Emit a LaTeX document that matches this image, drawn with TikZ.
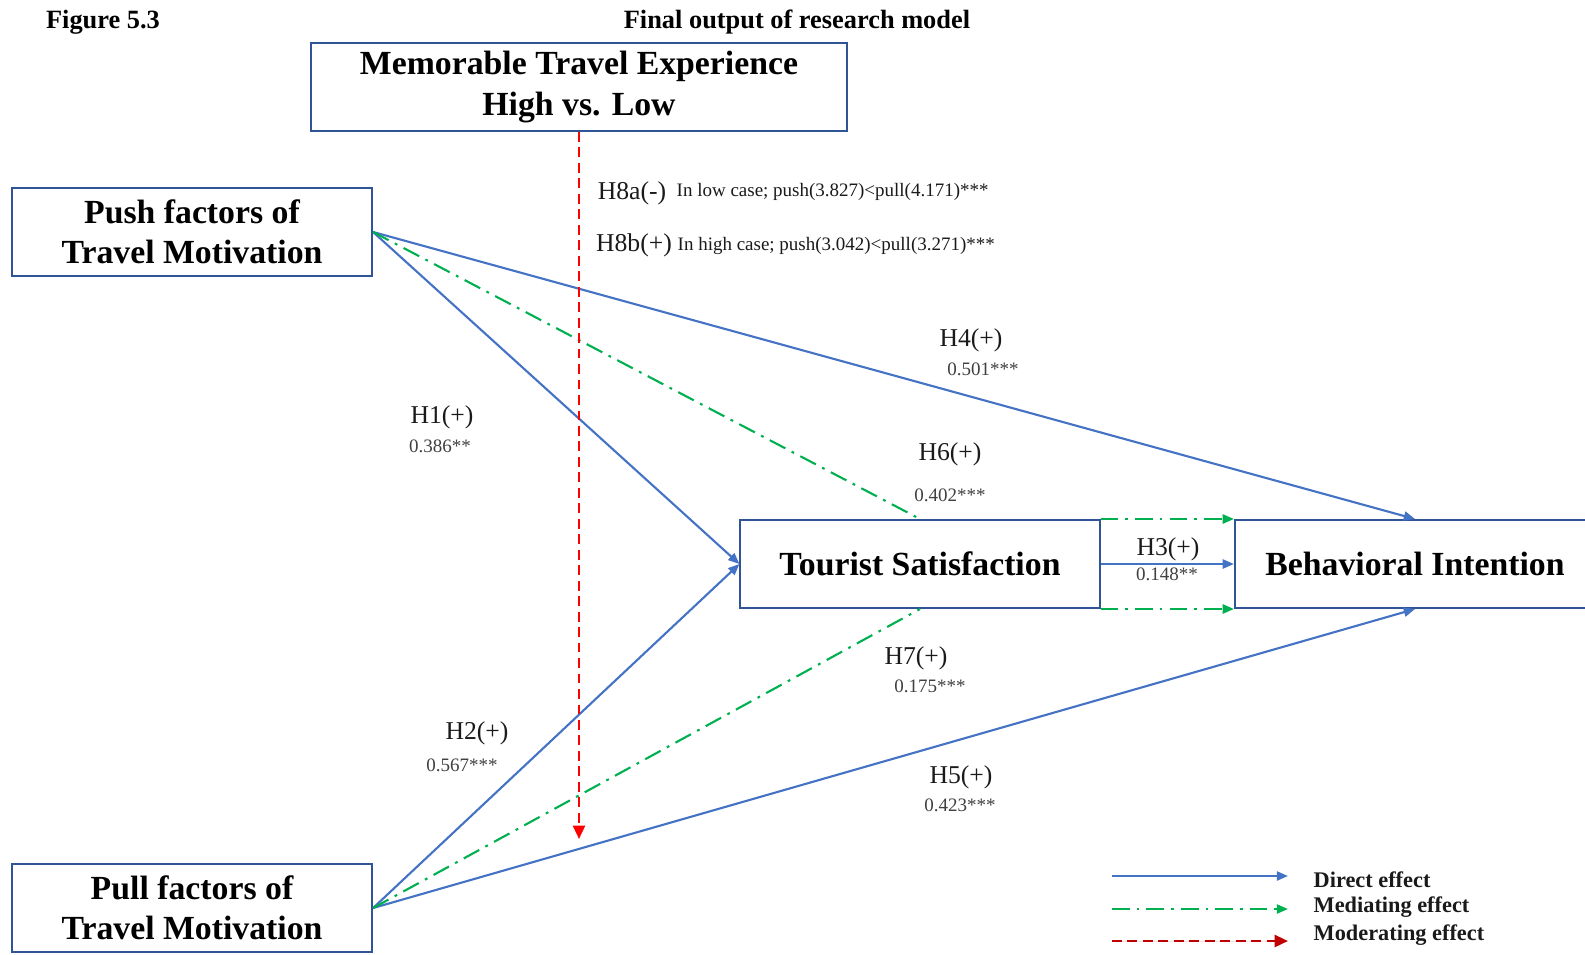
\documentclass[tikz,border=0pt]{standalone}
\usepackage{fontspec}
\setmainfont{Liberation Serif}
\usetikzlibrary{arrows.meta}
\definecolor{frame}{HTML}{2F5597}
\definecolor{pathblue}{HTML}{4472C4}
\definecolor{pathgreen}{HTML}{00B050}
\definecolor{pathred}{HTML}{FF0000}
\definecolor{legred}{HTML}{C00000}
\definecolor{ink}{HTML}{1A1A1A}
\definecolor{ink2}{HTML}{404040}
\tikzset{
  construct/.style={draw=frame, line width=0.55pt, fill=white, align=center, inner sep=0pt, minimum height=0.88cm, font=\fontsize{9.6}{11.5}\selectfont\bfseries, text=black},
  hyp/.style={font=\fontsize{7.3}{8.5}\selectfont, text=ink, inner sep=0pt},
  coef/.style={font=\fontsize{5.4}{6.5}\selectfont, text=ink2, inner sep=0pt},
  note/.style={font=\fontsize{5.4}{6.5}\selectfont, text=ink, inner sep=0pt, anchor=west},
  legtext/.style={font=\fontsize{6.35}{7.5}\selectfont\bfseries, text=ink, inner sep=0pt, anchor=west},
  direct/.style={-{Triangle[length=3.2pt,width=2.6pt]}, line width=0.6pt, draw=pathblue},
  mediate/.style={line width=0.6pt, draw=pathgreen, dash pattern=on 5pt off 2pt on 0.8pt off 2pt},
  moderate/.style={-{Triangle[length=3.8pt,width=3.4pt]}, line width=0.7pt, draw=pathred, dash pattern=on 2.8pt off 1.6pt},
}

\begin{document}
\begin{tikzpicture}[x=0.01cm, y=-0.01cm]
  \useasboundingbox (0,0) rectangle (1585,954);
  \node[font=\fontsize{7.5}{9}\selectfont\bfseries, inner sep=0pt] (fig) at (103,22) {Figure 5.3};
  \node[font=\fontsize{7.5}{9}\selectfont\bfseries, inner sep=0pt] (title) at (797,22) {Final output of research model};

  \node[construct, minimum width=5.36cm] (mte) at (579,87) {Memorable Travel Experience\\High vs. Low};
  \node[construct, minimum width=3.6cm] (push) at (192,232) {Push factors of\\Travel Motivation};
  \node[construct, minimum width=3.6cm] (pull) at (192,908) {Pull factors of\\Travel Motivation};
  \node[construct, minimum width=3.59cm] (ts) at (920,564) {Tourist Satisfaction};
  \node[construct, minimum width=3.6cm] (bi) at (1415,564) {Behavioral Intention};

  \draw[direct] (push.east) -- (ts.west);
  \draw[direct] (push.east) -- (bi.north);
  \draw[direct] (pull.east) -- (ts.west);
  \draw[direct] (pull.east) -- (bi.south);
  \draw[direct] (ts.east) -- (bi.west);
  \draw[mediate] (push.east) -- (ts.north);
  \draw[mediate] (pull.east) -- (ts.south);
  \draw[mediate, -{Triangle[length=3.2pt,width=2.6pt]}] (ts.north east) -- (bi.north west);
  \draw[mediate, -{Triangle[length=3.2pt,width=2.6pt]}] (ts.south east) -- (bi.south west);
  \coordinate (modend) at (579,839);
  \draw[moderate] (mte.south) -- (modend);

  \node[hyp] (h8a) at (632,193) {H8a(-)};
  \node[note] (h8anote) at (676,192) {In low case; push(3.827)<pull(4.171)***};
  \node[hyp] (h8b) at (634,245) {H8b(+)};
  \node[note] (h8bnote) at (677,246) {In high case; push(3.042)<pull(3.271)***};
  \node[hyp] (h4) at (971,340) {H4(+)};
  \node[coef] (c4) at (983,369) {0.501***};
  \node[hyp] (h1) at (442,417) {H1(+)};
  \node[coef] (c1) at (440,446) {0.386**};
  \node[hyp] (h6) at (950,454) {H6(+)};
  \node[coef] (c6) at (950,495) {0.402***};
  \node[hyp] (h3) at (1168,549) {H3(+)};
  \node[coef] (c3) at (1167,574) {0.148**};
  \node[hyp] (h7) at (916,658) {H7(+)};
  \node[coef] (c7) at (930,686) {0.175***};
  \node[hyp] (h2) at (477,733) {H2(+)};
  \node[coef] (c2) at (462,765) {0.567***};
  \node[hyp] (h5) at (961,777) {H5(+)};
  \node[coef] (c5) at (960,805) {0.423***};

  \coordinate (d1) at (1112,876); \coordinate (d2) at (1288,876);
  \coordinate (m1) at (1112,909); \coordinate (m2) at (1288,909);
  \coordinate (r1) at (1112,941); \coordinate (r2) at (1288,941);
  \draw[direct] (d1) -- (d2);
  \draw[mediate, -{Triangle[length=3.2pt,width=2.6pt]}] (m1) -- (m2);
  \draw[moderate, draw=legred, fill=legred] (r1) -- (r2);
  \node[legtext] (ldirect) at (1313,880) {Direct effect};
  \node[legtext] (lmediate) at (1313,907) {Mediating effect};
  \node[legtext] (lmoderate) at (1313,935) {Moderating effect};
\end{tikzpicture}
\end{document}
